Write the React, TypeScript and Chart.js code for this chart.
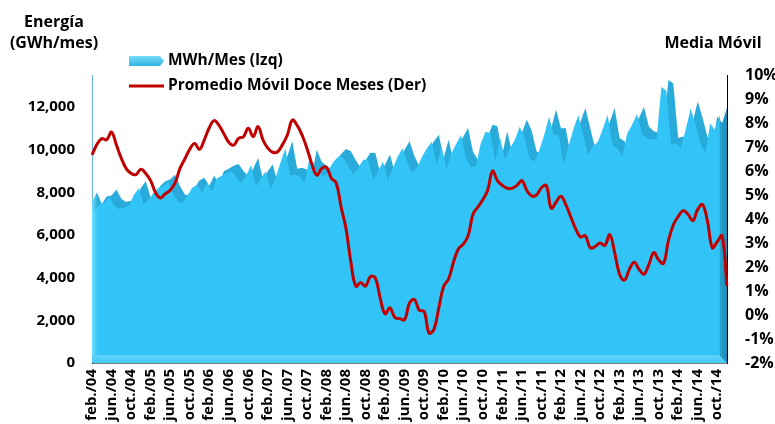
import React, { useEffect, useRef } from 'react';
import { Chart, registerables } from 'chart.js';

const MONTHS = ['ene.', 'feb.', 'mar.', 'abr.', 'may.', 'jun.', 'jul.', 'ago.', 'set.', 'oct.', 'nov.', 'dic.'];

// Monthly energy (GWh/mes), feb/04 .. dic/14
const ENERGY = [
  7500, 8000, 7450, 7800, 7850, 8130, 7700, 7550, 7600, 7700,
  8200, 8520, 7760, 8000, 8300, 8520, 8600, 8830, 8300, 7900,
  7820, 8200, 8550, 8680, 8300, 8790, 8370, 8990, 9100, 9250,
  9330, 9000, 8750, 9100, 9610, 8600, 9000, 9300, 8450, 9000,
  9700, 10390, 9100, 9150, 9070, 8760, 10000, 9450, 9250, 9070,
  9450, 9800, 10030, 9920, 9500, 9150, 9500, 9850, 9840, 8910,
  9300, 9770, 8910, 9450, 10000, 10390, 9700, 9220, 9500, 10000,
  10400, 10700, 9610, 10470, 9450, 10150, 10600, 11010, 9900, 9530,
  9530, 10600, 11170, 11100, 9770, 10860, 9850, 10400, 10780, 11400,
  10900, 9920, 9770, 10300, 11000, 11870, 11000, 11000, 9690, 10500,
  11300, 11950, 11000, 10080, 10500, 10700, 11300, 11950, 10550, 10400,
  10000, 11090, 11500, 12000, 11090, 10860, 10800, 10800, 13270, 13100,
  10550, 10620, 10390, 11300, 12260, 11500, 10600, 10160, 11560, 11250,
  11950,
];

// Promedio móvil doce meses (%)
const MOVING_AVG = [
  6.67, 7.1, 7.35, 7.3, 7.62, 7.08, 6.53, 6.1, 5.9, 5.85,
  6.07, 5.9, 5.6, 5.1, 4.88, 5.05, 5.2, 5.5, 6.1, 6.5,
  6.9, 7.15, 6.9, 7.3, 7.8, 8.1, 7.9, 7.55, 7.2, 7.08,
  7.36, 7.43, 7.78, 7.43, 7.85, 7.3, 6.95, 6.78, 6.8, 7.1,
  7.5, 8.12, 7.9, 7.5, 6.95, 6.3, 5.83, 6.1, 6.15, 5.7,
  5.5, 4.5, 3.6, 2.2, 1.2, 1.35, 1.2, 1.6, 1.55, 0.7,
  0.05, 0.3, -0.1, -0.15, -0.2, 0.5, 0.65, 0.2, 0.15, -0.75,
  -0.6, 0.3, 1.2, 1.5, 2.2, 2.75, 2.95, 3.3, 4.2, 4.5,
  4.8, 5.2, 6.0, 5.6, 5.4, 5.28, 5.28, 5.4, 5.6, 5.2,
  4.96, 5.0, 5.3, 5.4, 4.45, 4.7, 4.95, 4.6, 4.1, 3.6,
  3.25, 3.3, 2.8, 2.85, 3.0, 2.9, 3.35, 2.6, 1.7, 1.45,
  1.9, 2.2, 1.9, 1.7, 2.1, 2.6, 2.3, 2.15, 3.1, 3.75,
  4.1, 4.35, 4.2, 3.93, 4.4, 4.6, 3.9, 2.8, 3.05, 3.3,
  1.2,
];

const LEFT_TICKS = [0, 2000, 4000, 6000, 8000, 10000, 12000];
const RIGHT_TICKS = [-2, -1, 0, 1, 2, 3, 4, 5, 6, 7, 8, 9, 10];
const TICK_EVERY = 4;

const CATEGORIES = ENERGY.map((_, i) => {
  const k = 1 + i;
  const m = k % 12;
  const y = 2004 + Math.floor(k / 12);
  return `${MONTHS[m]}/${String(y % 100).padStart(2, '0')}`;
});

const LEGEND_LABELS = ['MWh/Mes (Izq)', 'Promedio Móvil Doce Meses (Der)'];
const FONT = '"Open Sans", "DejaVu Sans", sans-serif';
const AREA_COLOR = 'rgb(51,196,247)';
const AREA_TOP_COLOR = 'rgb(40,170,218)';
const LINE_COLOR = '#C00000';
const DEPTH = 7;

const decorPlugin = {
  id: 'decor3d',
  beforeDatasetDraw(chart: any, args: any) {
    if (args.index === 1) {
      const { ctx, chartArea } = chart;
      ctx.save();
      ctx.beginPath();
      ctx.rect(chartArea.left, chartArea.top, chartArea.right - chartArea.left, chartArea.bottom - chartArea.top);
      ctx.clip();
      ctx.translate(-DEPTH, DEPTH);
    }
  },
  afterDatasetDraw(chart: any, args: any) {
    if (args.index !== 1) return;
    const { ctx, chartArea } = chart;
    ctx.restore();
    const { left, right, bottom, top } = chartArea;
    ctx.save();
    ctx.globalCompositeOperation = 'source-atop';
    const g = ctx.createLinearGradient(right - DEPTH - 1, 0, right, 0);
    g.addColorStop(0, 'rgba(20,120,160,0.1)');
    g.addColorStop(1, 'rgba(20,110,150,0.55)');
    ctx.fillStyle = g;
    ctx.fillRect(right - DEPTH - 1, top, DEPTH + 1, bottom - top);
    const gl = ctx.createLinearGradient(left, 0, left + 6, 0);
    gl.addColorStop(0, 'rgba(120,225,255,0.9)');
    gl.addColorStop(1, 'rgba(120,225,255,0)');
    ctx.fillStyle = gl;
    ctx.fillRect(left, top, 6, bottom - top);
    ctx.restore();
    // floor band
    ctx.save();
    const gb = ctx.createLinearGradient(0, bottom - 8, 0, bottom);
    gb.addColorStop(0, 'rgb(95,212,250)');
    gb.addColorStop(1, 'rgb(70,200,245)');
    ctx.fillStyle = gb;
    ctx.beginPath();
    ctx.moveTo(left, bottom - 8);
    ctx.lineTo(right - 8, bottom - 8);
    ctx.lineTo(right, bottom);
    ctx.lineTo(left, bottom);
    ctx.closePath();
    ctx.fill();
    ctx.restore();
  },
  afterDraw(chart: any) {
    const { ctx } = chart;
    ctx.save();
    ctx.fillStyle = '#000';
    ctx.font = `bold 16px ${FONT}`;
    ctx.textAlign = 'center';
    ctx.textBaseline = 'middle';
    ctx.fillText('Energía', 54, 22);
    ctx.fillText('(GWh/mes)', 54, 43);
    ctx.fillText('Media Móvil', 713, 43);
    // legend
    ctx.font = `bold 15.5px ${FONT}`;
    ctx.textAlign = 'left';
    const gs = ctx.createLinearGradient(0, 56, 0, 67);
    gs.addColorStop(0, 'rgb(120,220,250)');
    gs.addColorStop(1, 'rgb(40,175,225)');
    ctx.fillStyle = gs;
    ctx.beginPath();
    ctx.moveTo(129, 56);
    ctx.lineTo(160, 56);
    ctx.lineTo(164, 61);
    ctx.lineTo(160, 66);
    ctx.lineTo(129, 66);
    ctx.closePath();
    ctx.fill();
    ctx.fillStyle = '#000';
    ctx.fillText(LEGEND_LABELS[0], 168, 61);
    ctx.strokeStyle = LINE_COLOR;
    ctx.lineWidth = 3;
    ctx.beginPath();
    ctx.moveTo(129, 86);
    ctx.lineTo(164, 86);
    ctx.stroke();
    ctx.fillText(LEGEND_LABELS[1], 168, 86);
    ctx.restore();
  },
};

// register the 3D helper first so its hooks run before the Filler plugin
Chart.register(decorPlugin);
Chart.register(...registerables);

export default function App() {
  const ref = useRef<HTMLCanvasElement>(null);
  useEffect(() => {
    if (!ref.current) return;
    const chart = new Chart(ref.current, {
      type: 'line',
      data: {
        labels: CATEGORIES,
        datasets: [
          {
            label: 'top',
            data: ENERGY,
            yAxisID: 'y',
            fill: 'origin',
            backgroundColor: AREA_TOP_COLOR,
            borderWidth: 0,
            pointRadius: 0,
            tension: 0,
            order: 3,
          },
          {
            label: LEGEND_LABELS[0],
            data: ENERGY,
            yAxisID: 'y',
            fill: 'origin',
            backgroundColor: AREA_COLOR,
            borderWidth: 0,
            pointRadius: 0,
            tension: 0,
            order: 2,
          },
          {
            label: LEGEND_LABELS[1],
            data: MOVING_AVG,
            yAxisID: 'y1',
            fill: false,
            borderColor: LINE_COLOR,
            borderWidth: 3,
            pointRadius: 0,
            tension: 0.4,
            order: 1,
          },
        ],
      },
      options: {
        responsive: false,
        animation: false,
        events: [],
        layout: { padding: { top: 75, left: 0, right: 0, bottom: 0 } },
        plugins: { legend: { display: false }, tooltip: { enabled: false }, title: { display: false } },
        scales: {
          x: {
            offset: false,
            grid: { display: false, drawTicks: false },
            border: { display: true, color: '#7f7f7f', width: 1 },
            ticks: {
              autoSkip: false,
              maxRotation: 90,
              minRotation: 90,
              padding: 6,
              color: '#000',
              font: { family: FONT, size: 15, weight: 'bold' },
              callback: (_v: any, i: number) => (i % TICK_EVERY === 0 ? CATEGORIES[i] : ''),
            },
            afterFit: (s: any) => { s.height = 61; },
          },
          y: {
            position: 'left',
            min: 0,
            max: 13500,
            grid: { display: false, drawTicks: false },
            border: { display: true, color: '#000', width: 1 },
            afterBuildTicks: (s: any) => { s.ticks = LEFT_TICKS.map((v) => ({ value: v })); },
            ticks: {
              padding: 17,
              color: '#000',
              font: { family: FONT, size: 15, weight: 'bold' },
              callback: (v: any) => Number(v).toLocaleString('en-US'),
            },
            afterFit: (s: any) => { s.width = 92; },
          },
          y1: {
            position: 'right',
            min: -2,
            max: 10,
            grid: { display: false, drawTicks: false },
            border: { display: true, color: '#000', width: 1 },
            afterBuildTicks: (s: any) => { s.ticks = RIGHT_TICKS.map((v) => ({ value: v })); },
            ticks: {
              padding: 18,
              color: '#000',
              font: { family: FONT, size: 16, weight: 'bold' },
              callback: (v: any) => `${v}%`,
            },
            afterFit: (s: any) => { s.width = 48; },
          },
        },
      },
    });
    return () => chart.destroy();
  }, []);
  return (
    <div style={{ position: 'fixed', left: 0, top: 0, width: 775, height: 424, background: '#fff' }}>
      <canvas ref={ref} width={775} height={424} style={{ display: 'block' }} />
    </div>
  );
}
